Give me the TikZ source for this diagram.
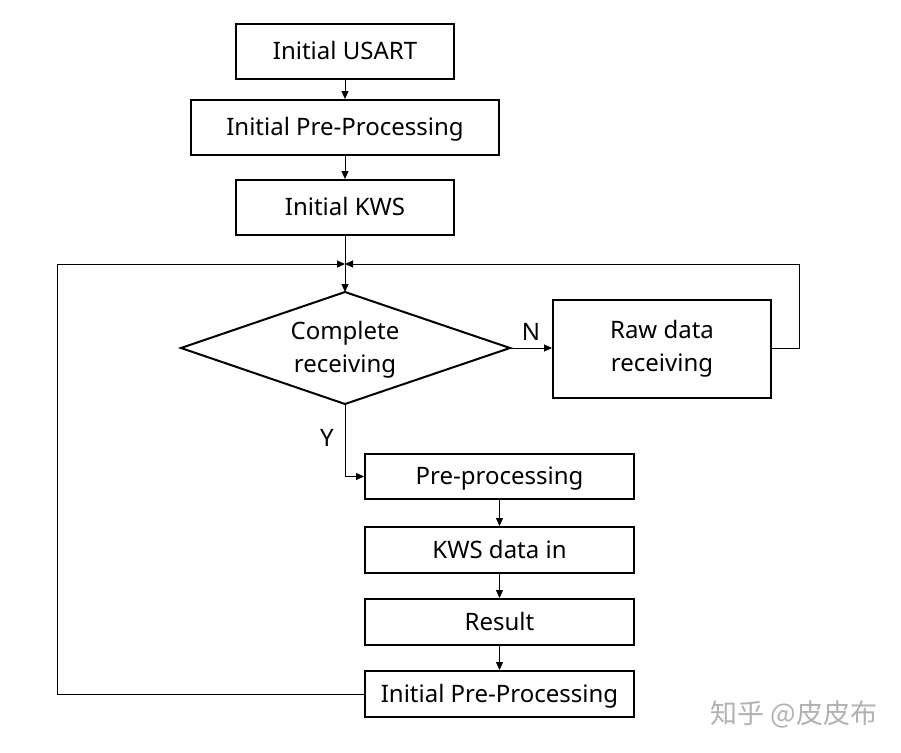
\documentclass[tikz,border=0pt]{standalone}
\usepackage{fontspec}
\setmainfont{Noto Sans}
\newfontfamily\cjk{Noto Sans CJK SC}
\usetikzlibrary{arrows.meta}
\begin{document}
\begin{tikzpicture}[x=1pt,y=-1pt,
  box/.style={draw,line width=2pt,minimum width=#1,inner sep=0pt,font=\fontsize{24}{28}\selectfont},
  onel/.style={text height=19pt,text depth=3pt},
  conn/.style={line width=1pt,-{Triangle[length=8pt,width=7pt]}},
  plain/.style={line width=1pt},
  lbl/.style={font=\fontsize{24}{28}\selectfont}]
\fill[white] (0,0) rectangle (901,752);
\useasboundingbox (0,0) rectangle (901,752);
\node[box=218pt,onel,minimum height=55pt] (usart) at (345,51.5) {Initial USART};
\node[box=308pt,onel,minimum height=55pt] (ipp) at (345,127.5) {Initial Pre-Processing};
\node[box=218pt,onel,minimum height=55pt] (kws) at (345,207.5) {Initial KWS};
\coordinate (j) at (345,264);
\coordinate (decN) at (345,292);
\coordinate (decE) at (510,348);
\coordinate (decS) at (345,404);
\coordinate (decW) at (181,348);
\draw[line width=2pt,line join=miter] (decN) -- (decE) -- (decS) -- (decW) -- cycle;
\node[align=center,font=\fontsize{24}{33}\selectfont,inner sep=0pt] (dec) at (345,350) {Complete\\receiving};
\node[box=218pt,minimum height=98pt,align=center,font=\fontsize{24}{33}\selectfont] (raw) at (662,349) {Raw data\\receiving};
\node[box=269pt,onel,minimum height=45pt] (pre) at (499.5,476.5) {Pre-processing};
\node[box=269pt,onel,minimum height=46pt] (kin) at (499.5,550) {KWS data in};
\node[box=269pt,onel,minimum height=46pt] (res) at (499.5,622) {Result};
\node[box=269pt,onel,minimum height=46pt] (ipp2) at (499.5,694) {Initial Pre-Processing};
\coordinate (rl) at (57,264);
\coordinate (rr) at (799,264);
\draw[conn] (usart) -- (ipp);
\draw[conn] (ipp) -- (kws);
\draw[plain] (kws) -- (j);
\draw[conn] (j) -- (decN);
\draw[conn] (decE) -- (raw.west |- decE);
\node[lbl] (nlab) at (531,332) {N};
\draw[conn] (decS) |- (pre.west);
\node[lbl] (ylab) at (327,438) {Y};
\draw[conn] (raw.east |- decE) -| (rr) -- (j);
\draw[conn] (pre) -- (kin);
\draw[conn] (kin) -- (res);
\draw[conn] (res) -- (ipp2);
\draw[conn] (ipp2.west) -| (rl) -- (j);
\node[font=\cjk\fontsize{27}{30}\selectfont,text=black!30] (wm) at (794,714) {知乎 @皮皮布};
\end{tikzpicture}
\end{document}
